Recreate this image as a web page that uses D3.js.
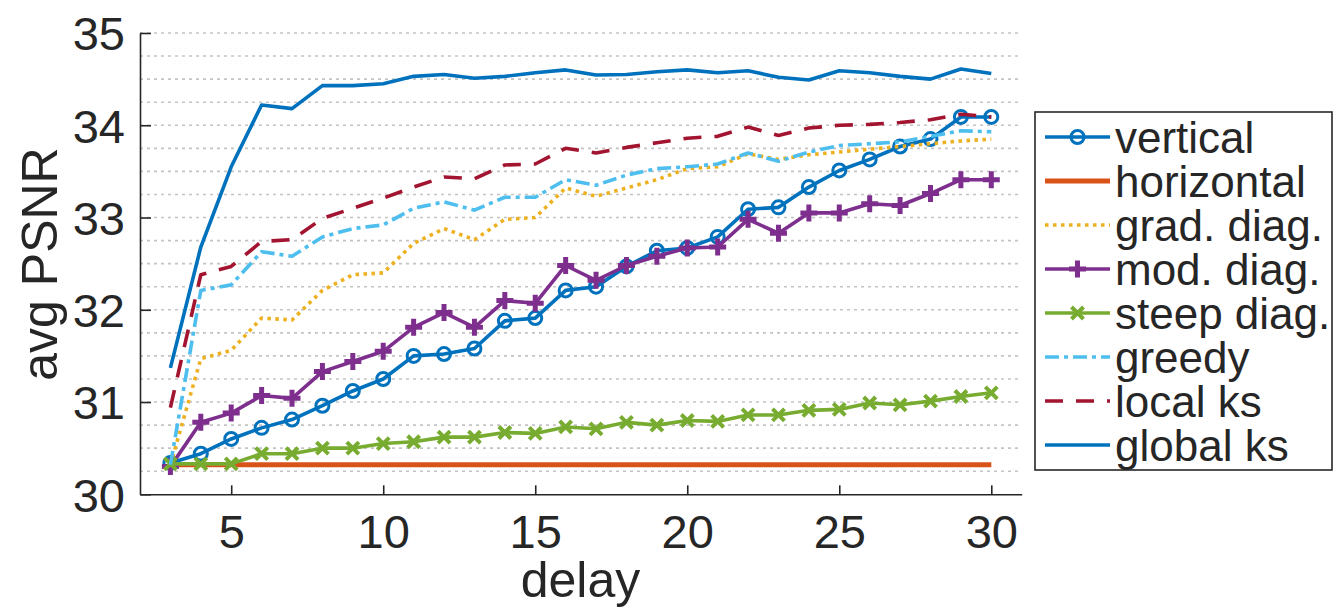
<!DOCTYPE html>
<html><head><meta charset="utf-8">
<script src="https://cdn.jsdelivr.net/npm/d3@7/dist/d3.min.js"></script>
<style>body{margin:0;background:#fff}svg{display:block}text{font-family:"Liberation Sans",Arial,sans-serif;fill:#262626}</style>
</head><body><svg id="c" width="1334" height="609"></svg>
<script>
const delays = d3.range(3, 31);
const vertical   = [30.34,30.44,30.60,30.72,30.81,30.96,31.12,31.25,31.50,31.52,31.58,31.88,31.91,32.21,32.25,32.47,32.64,32.67,32.79,33.09,33.11,33.33,33.51,33.63,33.77,33.85,34.09,34.09];
const horizontal = [30.32,30.32,30.32,30.32,30.32,30.32,30.32,30.32,30.32,30.32,30.32,30.32,30.32,30.32,30.32,30.32,30.32,30.32,30.32,30.32,30.32,30.32,30.32,30.32,30.32,30.32,30.32,30.32];
const gradDiag   = [30.32,31.47,31.56,31.91,31.89,32.21,32.38,32.40,32.72,32.88,32.76,32.98,33.00,33.32,33.23,33.32,33.41,33.53,33.55,33.69,33.63,33.68,33.71,33.74,33.77,33.80,33.83,33.85];
const modDiag    = [30.30,30.78,30.88,31.07,31.04,31.33,31.44,31.55,31.81,31.97,31.81,32.10,32.07,32.48,32.32,32.48,32.58,32.67,32.68,32.98,32.83,33.05,33.05,33.15,33.13,33.26,33.41,33.41];
const steepDiag  = [30.33,30.33,30.33,30.44,30.44,30.50,30.50,30.55,30.57,30.62,30.62,30.67,30.66,30.73,30.71,30.78,30.75,30.80,30.79,30.86,30.86,30.91,30.92,30.99,30.97,31.01,31.06,31.10];
const greedy     = [30.32,32.21,32.27,32.63,32.58,32.79,32.88,32.92,33.10,33.17,33.08,33.22,33.22,33.41,33.35,33.46,33.53,33.55,33.58,33.70,33.61,33.71,33.78,33.80,33.82,33.88,33.94,33.93];
const localKs    = [30.94,32.38,32.47,32.74,32.76,32.99,33.10,33.21,33.33,33.44,33.42,33.57,33.58,33.75,33.70,33.76,33.81,33.86,33.88,33.98,33.89,33.97,34.00,34.01,34.03,34.06,34.12,34.09];
const globalKs   = [31.37,32.68,33.55,34.22,34.18,34.43,34.43,34.45,34.53,34.55,34.51,34.53,34.57,34.60,34.545,34.55,34.58,34.60,34.57,34.59,34.52,34.49,34.59,34.57,34.53,34.50,34.61,34.56];
const seriesNames = ["vertical","horizontal","grad. diag.","mod. diag.","steep diag.","greedy","local ks","global ks"];
const xTicks = [5,10,15,20,25,30];
const yTicks = [30,31,32,33,34,35];

const styles = [
  {c:"#0072BD", dash:null, m:"o"},
  {c:"#D95319", dash:null, m:null},
  {c:"#EDB120", dash:"3.5,4.5", m:null},
  {c:"#7E2F8E", dash:null, m:"+"},
  {c:"#77AC30", dash:null, m:"x"},
  {c:"#4DBEEE", dash:"14,5,4,5", m:null},
  {c:"#A2142F", dash:"18,13", m:null},
  {c:"#0072BD", dash:null, m:null}
];
const allSeries = [vertical,horizontal,gradDiag,modDiag,steepDiag,greedy,localKs,globalKs];

const svg = d3.select("#c");
const x = d3.scaleLinear().domain([2,31]).range([140,1021.7]);
const y = d3.scaleLinear().domain([30,35]).range([494.3,33]);

// grid
const gridVals = d3.range(30.25, 35.001, 0.25);
svg.append("g").selectAll("line").data(gridVals).join("line")
  .attr("x1", x(2)).attr("x2", x(31)).attr("y1", d=>y(d)).attr("y2", d=>y(d))
  .attr("stroke", "#c4c4c4").attr("stroke-width", 1.6).attr("stroke-dasharray", "3,4");

// axes
const gx = svg.append("g").attr("transform", `translate(0,${y(30)})`)
  .call(d3.axisBottom(x).tickValues(xTicks).tickFormat(d3.format("d")).tickSize(-9).tickPadding(22).tickSizeOuter(0));
const gy = svg.append("g").attr("transform", `translate(${x(2)},0)`)
  .call(d3.axisLeft(y).tickValues(yTicks).tickFormat(d3.format("d")).tickSize(-11).tickPadding(15).tickSizeOuter(0));
[gx,gy].forEach(g=>{
  g.select(".domain").attr("stroke","#262626").attr("stroke-width",1.6);
  g.selectAll(".tick line").attr("stroke","#262626").attr("stroke-width",1.6);
  g.selectAll(".tick text").attr("font-size",47).attr("font-family","Liberation Sans, Arial, sans-serif").attr("fill","#262626");
});
gx.selectAll(".tick text").attr("dy","0.71em").attr("y",20);
gy.selectAll(".tick text").attr("dy","0.36em");

// labels
svg.append("text").attr("x", 580.5).attr("y", 597).attr("text-anchor","middle")
  .attr("font-size", 50).text("delay");
svg.append("text").attr("transform","translate(57,264) rotate(-90)").attr("text-anchor","middle")
  .attr("font-size", 50).text("avg PSNR");

// lines
const line = d3.line().x((d,i)=>x(delays[i])).y(d=>y(d));
function marker(g, type, cx, cy, col){
  if(type==="o"){
    g.append("circle").attr("cx",cx).attr("cy",cy).attr("r",6.5).attr("fill","none").attr("stroke",col).attr("stroke-width",3);
  } else if(type==="+"){
    const s=8.5;
    g.append("path").attr("d",`M${cx-s},${cy}H${cx+s}M${cx},${cy-s}V${cy+s}`).attr("stroke",col).attr("stroke-width",5);
  } else if(type==="x"){
    const s=6;
    g.append("path").attr("d",`M${cx-s},${cy-s}L${cx+s},${cy+s}M${cx-s},${cy+s}L${cx+s},${cy-s}`).attr("stroke",col).attr("stroke-width",4);
  }
}
allSeries.forEach((vals,k)=>{
  const st = styles[k];
  const g = svg.append("g");
  g.append("path").datum(vals).attr("d", line).attr("fill","none")
    .attr("stroke", st.c).attr("stroke-width", k===1?5:3.6).attr("stroke-linejoin","round")
    .attr("stroke-dasharray", st.dash);
  if(st.m) vals.forEach((v,i)=>marker(g, st.m, x(delays[i]), y(v), st.c));
});

// legend
const lg = svg.append("g");
lg.append("rect").attr("x",1035).attr("y",112).attr("width",297).attr("height",358)
  .attr("fill","#fff").attr("stroke","#262626").attr("stroke-width",1.6);
seriesNames.forEach((n,i)=>{
  const by = 153 + i*44, ly = by-16, st = styles[i];
  lg.append("line").attr("x1",1045).attr("x2",1110).attr("y1",ly).attr("y2",ly)
    .attr("stroke",st.c).attr("stroke-width", i===1?5:3.6).attr("stroke-dasharray",st.dash);
  if(st.m) marker(lg, st.m, 1077.5, ly, st.c);
  lg.append("text").attr("x",1115).attr("y",by).attr("font-size",44).text(n);
});
</script></body></html>
